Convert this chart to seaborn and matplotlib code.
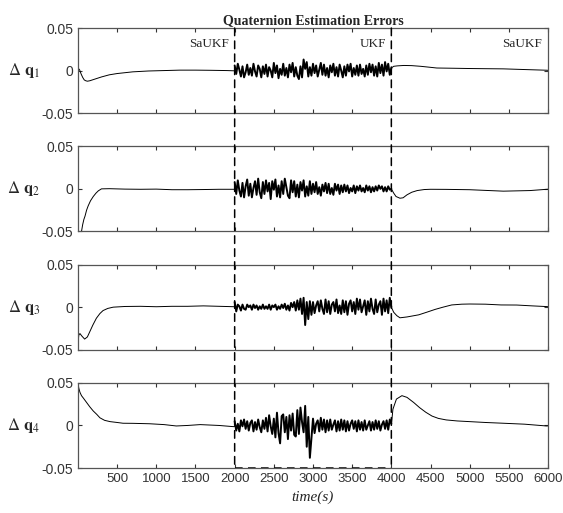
#%%
# Libraries
# -----------------------------------------------------------------------
import numpy as np
import pandas as pd
import seaborn as sns
import matplotlib.pyplot as plt
from matplotlib.patches import ConnectionPatch

# Data (errors in units of 1e-3)
# -----------------------------------------------------------------------
switch_times = [2000, 4000]
segment_labels = ["SaUKF", "UKF", "SaUKF"]
segment_ends = [2000, 4000, 6000]
x_ticks = [500, 1000, 1500, 2000, 2500, 3000, 3500, 4000, 4500, 5000, 5500, 6000]
y_ticks = [-0.05, 0, 0.05]
y_ticklabels = ["-0.05", "0", "0.05"]

# UKF stretch is sampled every 20 s
t_ukf = np.arange(2000, 4001, 20)

# --- dq1 ---
t_q1_pre = [0, 20, 40, 60, 80, 100, 120, 150, 200, 250, 300, 400, 500, 600, 700, 900, 1100, 1300, 1500, 1700, 1900, 2000]
q1_pre = [3, 1, -4, -8, -11, -12, -12.5, -12, -10.5, -9, -7.5, -5, -3.5, -2.5, -1.5, -0.5, 0, 0.5, 0.5, 0.3, 0, -0.3]
q1_ukf = [6, -4, 8, 1, -7, 5, -8, -2, 7, -5,
          3, -6, 8, -1, -7, 6, 2, -8, 5, -4,
          7, -7, 4, 0, -8, 9, -3, 6, -9, 2,
          -5, 8, -6, 3, -8, 7, -2, 9, -7, 4,
          -6, -10, 5, -8, 13, 2, 10, -7, 4, -6,
          8, -3, 6, -7, 1, 9, -5, 7, -6, 3,
          -8, 6, -2, 8, -6, 4, -7, 7, 0, -8,
          5, -6, 7, -1, 8, -7, 3, -5, 6, -6,
          7, -4, 2, -7, 6, -5, 8, -2, 7, -6,
          5, -7, 9, -3, 7, -6, 10, -1, 8, -5,
          3]
t_q1_post = [4000, 4030, 4075, 4160, 4260, 4375, 4500, 4580, 4800, 5000, 5200, 5430, 5700, 5980, 6000]
q1_post = [3, 5, 5.5, 6, 5.8, 5, 3.8, 3, 2.7, 2.4, 2.2, 2, 1.2, 0.4, 0.3]

# --- dq2 ---
t_q2_pre = [45, 60, 75, 90, 110, 130, 160, 195, 230, 260, 300, 400, 600, 800, 1000, 1200, 1400, 1600, 1800, 2000]
q2_pre = [-50, -42, -36, -32, -25, -20, -14, -9, -5, -2.3, 0, 0.2, -0.3, -0.5, -0.3, -1, -1, -0.8, -0.5, -0.5]
q2_ukf = [8, -6, 10, -2, -9, 7, -10, 3, 11, -8,
          6, -10, 1, 9, -7, 12, -4, -11, 8, -6,
          10, -3, 7, -12, 9, -1, 11, -9, 4, -10,
          9, -6, 12, 2, -8, -11, 10, -4, 9, -9,
          5, -10, 8, -2, 10, -9, 3, -8, 9, -6,
          6, -4, 8, -6, 2, -8, 5, -3, 7, -5,
          6, -6, 1, -7, 6, -2, 5, -6, 4, -4,
          5, -3, 4, -5, 1, -3, 4, -5, 3, -2,
          4, -3, 1, -4, 4, -2, 3, -4, 2, -3,
          3, -2, 4, 0, 3, -3, 2, -3, 3, -1,
          0]
t_q2_post = [4000, 4030, 4060, 4110, 4150, 4200, 4260, 4330, 4420, 4500, 4700, 5000, 5200, 5430, 5770, 6000]
q2_post = [0, -5, -9, -11, -10.5, -7, -4, -2, -0.8, -0.5, -0.6, -1, -1.8, -2.7, -2, -0.4]

# --- dq3 ---
t_q3_pre = [0, 5, 10, 25, 50, 85, 120, 150, 190, 235, 280, 320, 380, 450, 600, 800, 1000, 1200, 1400, 1600, 1800, 2000]
q3_pre = [-50, -38, -33, -31, -34, -37.5, -35, -29, -21, -13, -7.5, -4, -1.5, 0, 0.8, 1, 0.5, 1, 1, 1.5, 1, 0.5]
q3_ukf = [6, -5, 3, 1, -4, 3, -2, -3, 3, 0,
          2, -3, 3, -1, 2, -3, 1, -2, 3, -2,
          1, -2, 3, -3, 2, 0, 3, -3, 1, -2,
          3, -1, 4, -3, 2, -4, 5, 0, 6, -4,
          8, -3, 10, -8, 11, -21, 6, -14, 7, -9,
          6, -7, 2, 7, -5, 8, -2, -8, 9, -6,
          7, -8, 3, 6, -5, 9, -7, 2, -8, 8,
          -6, 7, -9, 4, 8, -5, 6, -8, 10, -3,
          9, -6, 1, 8, -9, 7, -5, 10, -2, -8,
          9, -6, 3, 7, -9, 10, -5, 8, -7, 11,
          0]
t_q3_post = [4000, 4030, 4070, 4110, 4200, 4350, 4450, 4560, 4660, 4770, 4900, 5000, 5200, 5400, 5600, 5800, 6000]
q3_post = [0, -6, -10, -12.5, -11.5, -9, -6, -2.6, 0, 2.6, 3.5, 3.7, 3.5, 2.6, 2.5, 1.5, 0.6]

# --- dq4 ---
t_q4_pre = [0, 10, 25, 45, 70, 110, 150, 195, 240, 280, 340, 410, 500, 575, 700, 915, 1100, 1255, 1400, 1560, 1800, 1985, 2000]
q4_pre = [50, 44, 39, 35, 32, 27, 22, 17, 13, 9, 6, 4.5, 3.5, 2.6, 2.5, 2, 1, -0.6, 0, 1, 0, -1.4, -1.2]
q4_ukf = [5, -6, 2, -7, 6, -1, 7, -4, 5, -6,
          3, 6, -7, 4, -5, 7, -2, -8, 6, -4,
          9, -7, 12, -1, -10, 8, -14, 15, -9, -21,
          11, 13, -8, 10, -16, 12, -6, 14, -11, -13,
          18, -10, 21, 4, -8, 23, -25, 10, -38, -15,
          8, -9, 2, 6, -7, 9, -5, 7, -8, 6,
          -6, 7, -5, 1, 6, -7, 5, -6, 7, -5,
          6, -7, 5, -6, 2, 6, -4, 5, -7, 6,
          -5, 4, -6, 6, -5, 0, 5, -6, 4, -5,
          6, -4, 5, -6, 1, 5, -4, 6, -5, 7,
          2]
t_q4_post = [4000, 4020, 4065, 4135, 4200, 4285, 4360, 4440, 4520, 4600, 4700, 4840, 5000, 5200, 5430, 5700, 5980, 6000]
q4_post = [0, 19, 31, 35, 33, 27, 21, 15.5, 11, 8.3, 6.5, 5.3, 4.5, 3.5, 2.6, 1.5, -0.6, -0.5]

#%%
# One frame per piece (SaUKF before, UKF, SaUKF after)
# -----------------------------------------------------------------------
series = [
    (t_q1_pre, q1_pre, q1_ukf, t_q1_post, q1_post),
    (t_q2_pre, q2_pre, q2_ukf, t_q2_post, q2_post),
    (t_q3_pre, q3_pre, q3_ukf, t_q3_post, q3_post),
    (t_q4_pre, q4_pre, q4_ukf, t_q4_post, q4_post),
]
pieces = []
for tp, qp, qu, tpo, qpo in series:
    pieces.append([
        (pd.DataFrame({"t": tp, "q": np.array(qp) / 1000.0}), 0.7),
        (pd.DataFrame({"t": t_ukf, "q": np.array(qu) / 1000.0}), 1.4),
        (pd.DataFrame({"t": tpo, "q": np.array(qpo) / 1000.0}), 0.7),
    ])

#%%
# Plot
# -----------------------------------------------------------------------
sns.set_style("ticks")
plt.rcParams["font.family"] = ["Liberation Sans", "DejaVu Sans"]
plt.rcParams["mathtext.fontset"] = "stix"

fig, axes = plt.subplots(nrows=4, ncols=1, figsize=(5.63, 5.13), dpi=100, sharex=True)
fig.subplots_adjust(left=0.1385, right=0.9734, top=0.9454, bottom=0.0877, hspace=0.39)

spine_col = "#555555"
for i, (ax, parts) in enumerate(zip(axes, pieces)):
    for df, lw in parts:
        sns.lineplot(data=df, x="t", y="q", ax=ax, color="black", linewidth=lw,
                     estimator=None, sort=False)
    ax.set_xlim(0, 6000)
    ax.set_ylim(-0.05, 0.05)
    ax.set_yticks(y_ticks)
    ax.set_yticklabels(y_ticklabels)
    ax.set_xticks(x_ticks)
    ax.tick_params(direction="in", top=True, right=True, length=3, width=0.8,
                   labelsize=10, colors="#333333")
    ax.tick_params(axis="x", labelsize=9.5)
    for s in ax.spines.values():
        s.set_color(spine_col)
        s.set_linewidth(0.9)
    ax.set_xlabel("")
    ax.set_ylabel(r"$\Delta\ \mathbf{q}_{%d}$" % (i + 1), rotation=0, fontsize=12,
                  ha="right", va="center")
    ax.yaxis.set_label_coords(-0.08, 0.5)

axes[-1].set_xticklabels([str(x) for x in x_ticks])
axes[-1].set_xlabel("time(s)", fontfamily="Liberation Serif", fontstyle="italic",
                    fontsize=11, labelpad=4)

axes[0].set_title("Quaternion Estimation Errors", fontfamily="Liberation Serif",
                  fontweight="bold", fontsize=10, pad=3)

# filter labels in the first panel
for lab, xe in zip(segment_labels, segment_ends):
    axes[0].annotate(lab, xy=(xe, 0.031), xytext=(-4, 0), textcoords="offset points",
                     ha="right", va="center", fontfamily="Liberation Serif", fontsize=9.5)

# dashed frame around the UKF stretch
for xs in switch_times:
    con = ConnectionPatch(xyA=(xs, 0.05), coordsA="data", axesA=axes[0],
                          xyB=(xs, -0.05), coordsB="data", axesB=axes[-1],
                          color="black", linestyle=(0, (5, 3.5)), linewidth=1.1)
    fig.add_artist(con)
axes[-1].plot(switch_times, [-0.05, -0.05], color="black", linestyle=(0, (5, 3.5)),
              linewidth=1.1, clip_on=False)

plt.savefig("out.png", dpi=100)
